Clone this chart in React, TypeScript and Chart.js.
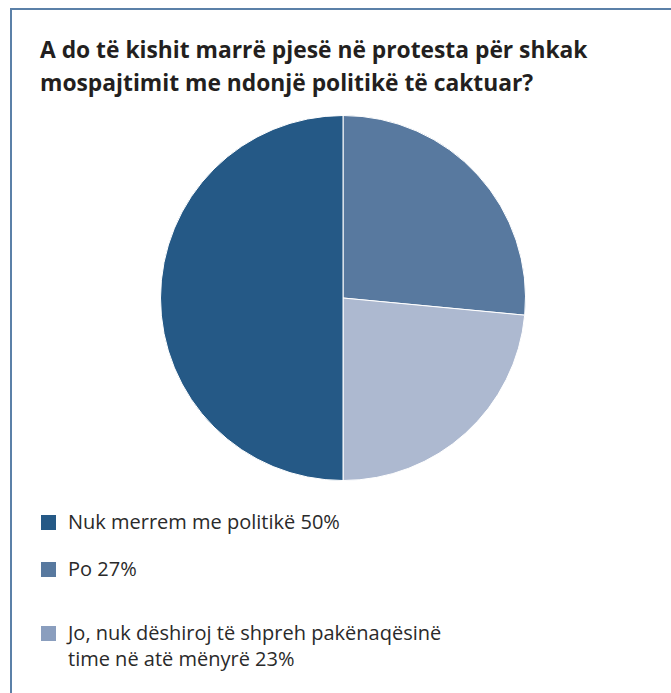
import React, { useEffect, useRef } from "react";
import { Chart, registerables } from "chart.js";

Chart.register(...registerables);

const titleLines = [
  "A do të kishit marrë pjesë në protesta për shkak",
  "mospajtimit me ndonjë politikë të caktuar?",
];
// Pie order (clockwise from top)
const sliceLabels = ["Po", "Jo, nuk dëshiroj të shpreh pakënaqësinë time në atë mënyrë", "Nuk merrem me politikë"];
const sliceValues = [26.5, 23.5, 50];
const sliceColors = ["#58799f", "#adb9d0", "#255986"];
// Legend order
const legendLines = [
  ["Nuk merrem me politikë 50%"],
  ["Po 27%"],
  ["Jo, nuk dëshiroj të shpreh pakënaqësinë", "time në atë mënyrë 23%"],
];
const legendColors = ["#255986", "#58799f", "#8a9ebe"];
const legendTops = [509, 556, 620];

export default function App() {
  const ref = useRef<HTMLCanvasElement>(null);
  useEffect(() => {
    if (!ref.current) return;
    const chart = new Chart(ref.current, {
      type: "pie",
      data: {
        labels: sliceLabels,
        datasets: [
          {
            data: sliceValues,
            backgroundColor: sliceColors,
            borderColor: "#ffffff",
            borderWidth: 1,
          },
        ],
      },
      options: {
        animation: false,
        responsive: false,
        maintainAspectRatio: false,
        layout: { padding: 0 },
        plugins: {
          legend: { display: false },
          tooltip: { enabled: false },
          title: { display: false },
        },
      },
    });
    return () => chart.destroy();
  }, []);

  return (
    <div
      style={{
        position: "absolute",
        left: 0,
        top: 0,
        width: 671,
        height: 693,
        overflow: "hidden",
        background: "#ffffff",
        fontFamily: "'Open Sans', 'Noto Sans', sans-serif",
      }}
    >
      <div
        style={{
          position: "absolute",
          left: 10,
          top: 8,
          width: 800,
          height: 800,
          borderLeft: "2px solid #5b80a8",
          borderTop: "2px solid #5b80a8",
        }}
      />
      <div
        style={{
          position: "absolute",
          left: 40,
          top: 33,
          fontWeight: 700,
          fontSize: 22.8,
          lineHeight: "33px",
          color: "#231f20",
          whiteSpace: "nowrap",
        }}
      >
        {titleLines.map((l, i) => (
          <div key={i}>{l}</div>
        ))}
      </div>
      <canvas
        ref={ref}
        width={366}
        height={366}
        style={{ position: "absolute", left: 160, top: 115, width: 366, height: 366 }}
      />
      {legendLines.map((lines, i) => (
        <div key={i} style={{ position: "absolute", left: 41, top: legendTops[i] }}>
          <div
            style={{
              position: "absolute",
              left: 0,
              top: 6,
              width: 15,
              height: 15,
              background: legendColors[i],
            }}
          />
          <div
            style={{
              position: "absolute",
              left: 27,
              top: 0,
              fontSize: 20,
              lineHeight: "26px",
              color: "#2a2a2a",
              whiteSpace: "nowrap",
            }}
          >
            {lines.map((l, j) => (
              <div key={j}>{l}</div>
            ))}
          </div>
        </div>
      ))}
    </div>
  );
}
